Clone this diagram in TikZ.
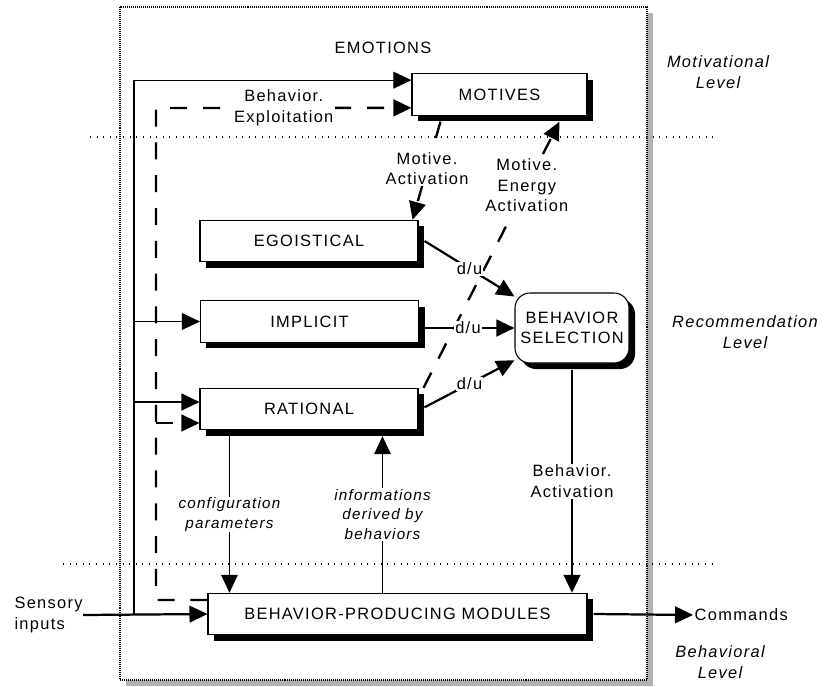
\documentclass[tikz,border=0pt]{standalone}
\usepackage{fontspec}
\setmainfont[LetterSpace=8]{Liberation Sans}
\usetikzlibrary{arrows.meta,shadows}

\begin{document}
\begin{tikzpicture}[x=0.03cm, y=-0.03cm, line width=0.9pt,
  font=\fontsize{14}{17.5}\selectfont,
  >={Triangle[length=0.54cm,width=0.5cm]},
  blk/.style={draw, fill=white, minimum width=6.54cm, minimum height=1.24cm, inner sep=0pt,
    drop shadow={shadow xshift=0.18cm, shadow yshift=-0.18cm, fill=black, opacity=1}},
  lbl/.style={fill=white, inner sep=1pt, align=center},
  ilbl/.style={lbl, font=\fontsize{13}{16.5}\selectfont\itshape},
  lvl/.style={align=center, font=\fontsize{14}{17.5}\selectfont\itshape},
  thk/.style={line width=1.9pt},
  dsh/.style={line width=2pt, dash pattern=on 14.5pt off 13.5pt},
  sep/.style={dash pattern=on 0.85pt off 4.8pt}]

\useasboundingbox (0,0) rectangle (828,686);

% frame and levels
\fill[gray!60] (126,13) rectangle (653,686);
\draw[fill=white, dash pattern=on 0.85pt off 0.85pt] (120,7) rectangle (647,680);
\draw[sep] (90,137) -- (717,137);
\draw[sep] (63,564) -- (717,564);

\node (emo) at (383,48) {EMOTIONS};
\node[lvl] (mlev) at (718,72) {Motivational\\Level};
\node[lvl] (rlev) at (745,332) {Recommendation\\Level};
\node[lvl] (blev) at (720,662) {Behavioral\\Level};

% boxes
\node[blk, minimum width=5.25cm] (mot) at (499.5,94.5) {MOTIVES};
\node[blk] (ego) at (309,241) {EGOISTICAL};
\node[blk] (imp) at (309.5,321.5) {IMPLICIT};
\node[blk] (rat) at (309,409) {RATIONAL};
\node[blk, minimum width=11.37cm] (bpm) at (397.5,614) {BEHAVIOR-PRODUCING MODULES};
\node[blk, rounded corners=0.45cm, minimum width=3.42cm, minimum height=2.1cm, align=center] (bs) at (572,328) {BEHAVIOR\\SELECTION};

\node[anchor=west, align=left, inner sep=0pt] (sens) at (14,615) {Sensory\\inputs};
\node[anchor=west, inner sep=1pt] (cmd) at (693,615) {Commands};

\coordinate (jn) at (134,614);
\coordinate (dx) at (156,108);
\coordinate (rhi) at ([yshift=0.21cm]rat.west);
\coordinate (rlo) at ([yshift=-0.42cm]rat.west);
\coordinate (ie) at ([xshift=0.18cm]imp.east);
\coordinate (cp) at ([xshift=0.9cm,yshift=-0.18cm]rat.south west);
\coordinate (ip) at ([xshift=5.49cm,yshift=-0.18cm]rat.south west);

% sensory inputs
\draw[thk,->] (sens.east) -- (bpm.west);
\draw[thk,->] (jn) |- (rhi);
\draw[->] (jn |- rhi) |- ([yshift=0.43cm]mot.west);
\draw[->] (jn |- imp.west) -- (imp.west);

% feedback from the modules
\draw[dsh,->] ([yshift=0.42cm]bpm.west) -| (dx) -- ([yshift=-0.4cm]mot.west)
  node[lbl, pos=0.5] (lexp) {Behavior.\\Exploitation};
\draw[dsh,->] (dx |- rlo) -- (rlo);

% motives
\draw[dsh,->] ([xshift=0.87cm,yshift=-0.18cm]mot.south west) -- ([xshift=-0.18cm]ego.north east)
  node[lbl, pos=0.48] (lmact) {Motive.\\Activation};
\draw[dsh,->] ([xshift=0.15cm]rat.north east) -- ([xshift=4.44cm,yshift=-0.18cm]mot.south west)
  node[lbl, pos=0.76] (lmen) {Motive.\\Energy\\Activation};

% recommendations
\draw[thk,->] ([xshift=0.18cm]ego.east) -- ([yshift=-0.12cm]bs.north west)
  node[lbl, pos=0.5] (du1) {d/u};
\draw[thk,->] (ie |- bs.west) -- (bs.west)
  node[lbl, pos=0.48] (du2) {d/u};
\draw[thk,->] ([xshift=0.18cm,yshift=0.05cm]rat.east) -- ([yshift=0.1cm]bs.south west)
  node[lbl, pos=0.5] (du3) {d/u};

\draw[thk,->] ([yshift=-0.18cm]bs.south) -- (bs.south |- bpm.north)
  node[lbl, pos=0.5] (lbact) {Behavior.\\Activation};
\draw[->] (cp) -- (cp |- bpm.north)
  node[ilbl, pos=0.5] (lcfg) {configuration\\parameters};
\draw[->] (ip |- bpm.north) -- (ip)
  node[ilbl, pos=0.5] (linf) {informations\\derived by\\behaviors};

\draw[thk,->] ([xshift=0.18cm]bpm.east) -- (cmd.west);

\end{tikzpicture}
\end{document}
